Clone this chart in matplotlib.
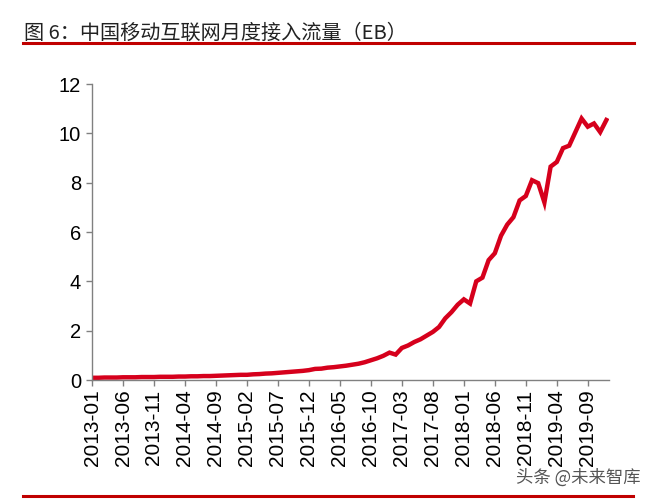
import matplotlib
matplotlib.use("Agg")
import matplotlib.pyplot as plt
from matplotlib.lines import Line2D
import pandas as pd

plt.rcParams["font.family"] = ["Liberation Sans", "Noto Sans CJK SC", "DejaVu Sans"]

months = pd.date_range("2013-01", "2019-12", freq="MS").strftime("%Y-%m").tolist()

traffic_eb = [
    # 2013
    0.09, 0.09, 0.10, 0.10, 0.10, 0.11, 0.11, 0.11, 0.12, 0.12, 0.12, 0.13,
    # 2014
    0.13, 0.13, 0.14, 0.14, 0.15, 0.15, 0.16, 0.16, 0.17, 0.18, 0.19, 0.20,
    # 2015
    0.21, 0.21, 0.23, 0.24, 0.26, 0.27, 0.29, 0.31, 0.33, 0.35, 0.37, 0.40,
    # 2016
    0.45, 0.46, 0.50, 0.52, 0.55, 0.58, 0.62, 0.66, 0.72, 0.80, 0.88, 0.98,
    # 2017
    1.11, 1.03, 1.30, 1.40, 1.54, 1.65, 1.80, 1.95, 2.15, 2.50, 2.75, 3.05,
    # 2018
    3.27, 3.10, 4.00, 4.15, 4.86, 5.14, 5.85, 6.30, 6.60, 7.28, 7.46, 8.10,
    # 2019
    7.98, 7.20, 8.65, 8.84, 9.40, 9.50, 10.05, 10.60, 10.27, 10.40, 10.05, 10.54,
]

tick_step = 5
line_red = "#D6001C"
rule_red = "#C00000"

fig = plt.figure(figsize=(6.55, 5.0), dpi=100)
ax = fig.add_axes([0.1405, 0.24, 0.79, 0.592])

x = list(range(len(months)))
ax.plot(x, traffic_eb, color=line_red, linewidth=3.2, solid_joinstyle="miter")

ax.set_xlim(0, len(months) - 0.5)
ax.set_ylim(0, 12)
ax.set_yticks(range(0, 13, 2))
ax.set_xticks(x[::tick_step])
ax.set_xticklabels(months[::tick_step], rotation=90)

for side in ["top", "right"]:
    ax.spines[side].set_visible(False)
for side in ["left", "bottom"]:
    ax.spines[side].set_color("#808080")
    ax.spines[side].set_linewidth(1.0)
ax.tick_params(axis="both", direction="out", length=4, width=1.0,
               color="#808080", labelcolor="black")
ax.tick_params(axis="x", pad=3, labelsize=15)
ax.tick_params(axis="y", pad=4, labelsize=14.5)

fig.text(0.036, 0.934, "图 6：中国移动互联网月度接入流量（EB）", fontsize=14.5,
         color="#222222", va="center", ha="left",
         family=["Noto Sans CJK SC", "DejaVu Sans"])
fig.add_artist(Line2D([0.035, 0.968], [0.914, 0.914], color=rule_red, linewidth=2.2))
fig.add_artist(Line2D([0.035, 0.966], [0.008, 0.008], color=rule_red, linewidth=2.2))
fig.text(0.978, 0.044, "头条 @未来智库", fontsize=12.5, color="#555555",
         ha="right", va="center", family=["Noto Sans CJK SC", "DejaVu Sans"])

fig.savefig("out.png", dpi=100)
